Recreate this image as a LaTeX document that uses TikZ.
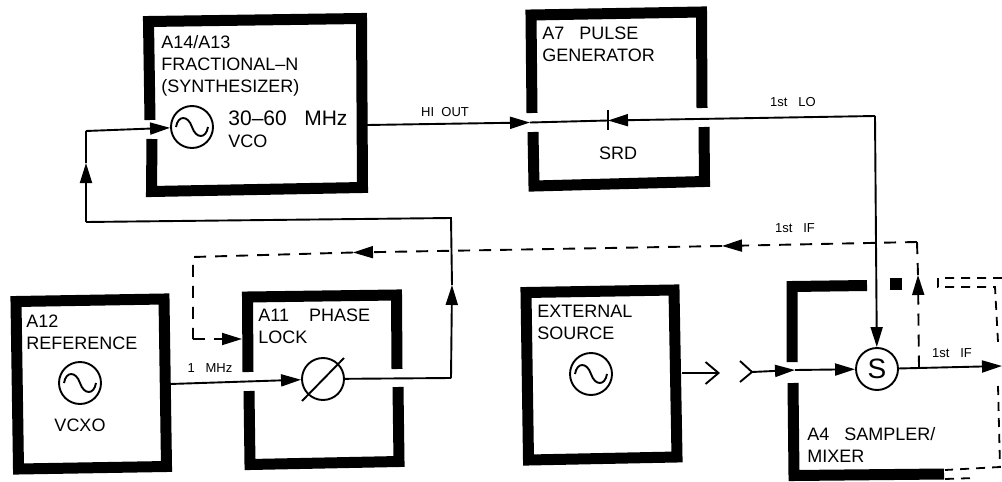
\documentclass[tikz,border=0pt]{standalone}
\usepackage{fontspec}
\setmainfont{Liberation Sans}
\usepackage{xcolor}
\usetikzlibrary{arrows.meta}

\tikzset{
  wall/.style={line width=5.5pt, line join=miter},
  sig/.style={line width=0.95pt},
  dsig/.style={sig, dash pattern=on 6pt off 4.5pt},
  dbox/.style={line width=0.9pt, dash pattern=on 4.5pt off 3.5pt},
  tip/.style={-{Triangle[length=10pt,width=6pt]}},
  blocktext/.style={anchor=north west, inner sep=0pt, align=left, font=\fontsize{9}{11}\selectfont},
  lbl/.style={inner sep=0pt, font=\fontsize{6.5}{7}\selectfont},
  roundel/.style={circle, draw, line width=0.95pt, minimum size=21pt, inner sep=0pt}
}

\begin{document}
\begin{tikzpicture}[x=0.5pt,y=-0.5pt]

\useasboundingbox (0,0) rectangle (1002,482);

% block outlines
\draw[wall] (152,139) -- (151.5,191.5) -- (362.5,187.5) -- (361.5,18.5) -- (148.5,21.5) -- (150,120);

\draw[wall] (532,113) -- (531,15) -- (701.5,12) -- (702,108);
\draw[wall] (533,132) -- (534,186) -- (704.5,181.5) -- (704,127);

\draw[wall] (16,301.5) -- (164,299) -- (166.5,466.5) -- (18.5,469) -- cycle;

\draw[wall] (248,372) -- (247.5,297) -- (396.5,295) -- (397,369);
\draw[wall] (249,391) -- (250,464.5) -- (399,461.5) -- (398,387);

\draw[wall] (526,292.5) -- (674,290) -- (677,457) -- (528.5,460) -- cycle;

\draw[wall] (792,362) -- (792,286.5) -- (867,285.5);
\draw[wall] (793,383) -- (794,475.5) -- (944,474);
\fill (890,278) rectangle (902,290);

% dashed part of the sampler box
\draw[dbox] (1002,278) -- (938,278) -- (938,287) -- (995,287) -- (998,342);
\draw[dbox] (998,386) -- (1000,467) -- (945,470);
\draw[dbox] (945,479) -- (975,478);

% round symbols
\node[roundel] (vco) at (192,127) {};
\node[roundel] (vcxo) at (80,383) {};
\node[roundel] (extosc) at (591,374) {};
\node[roundel] (phdet) at (323,379) {};
\node[roundel, font=\fontsize{14}{16}\selectfont] (samp) at (877,369) {S};

\foreach \osc in {vco,vcxo,extosc} {
  \draw[sig] (\osc) ++(-16,0) .. controls +(2,-12) and +(-4,-12) .. ++(16,0)
    .. controls +(4,12) and +(-2,12) .. ++(16,0);
}
\draw[sig] (phdet) ++(-21,22) -- ++(42,-43);

% connector points
\coordinate (synout) at (367,125);
\coordinate (hitip) at (530,122.5);
\coordinate (srd) at (608,120.5);
\coordinate (lobend) at (875,116);
\coordinate (refout) at (170,384);
\coordinate (pdbend) at (451,378);
\coordinate (pdtip) at (452,285);
\coordinate (fbright) at (451,218);
\coordinate (fbleft) at (86,222);
\coordinate (fbtip) at (86,163);
\coordinate (fbtop) at (86,131);
\coordinate (extout) at (682,373);
\coordinate (extplug) at (720,373);
\coordinate (jack) at (752,372);
\coordinate (jacktip) at (795,370);
\coordinate (ifout) at (1002,366);
\coordinate (ifjoin) at (919,367.5);
\coordinate (iftip) at (918,275);
\coordinate (ifcorner) at (917,242);
\coordinate (iftipa) at (722,246);
\coordinate (iftipb) at (353,252.5);
\coordinate (ifleft) at (193,257);
\coordinate (iflow) at (193,339);
\coordinate (iflock) at (242,339);

% signal lines
\draw[sig,tip] (synout) -- (hitip);
\draw[sig] (hitip) -- (srd);
\draw[sig,tip] (lobend) -- (srd);
\draw[sig] (srd) ++(0,-11) -- ++(0,20);
\draw[sig,tip] (lobend) -- (samp);

\draw[sig,tip] (refout) -- (phdet);
\draw[sig] (phdet) -- (pdbend);
\draw[sig,tip] (pdbend) -- (pdtip);
\draw[sig] (pdtip) -- (fbright) -- (fbleft);
\draw[sig,tip] (fbleft) -- (fbtip);
\draw[sig] (fbtip) -- (fbtop);
\draw[sig,tip] (fbtop) -- (vco);

\draw[sig,-{Straight Barb[length=6.5pt,width=11pt]}] (extout) -- (extplug);
\draw[sig] (740,361) -- (jack) -- (740,382);
\draw[sig,tip] (jack) -- (jacktip);
\draw[sig,tip] (jacktip) -- (samp);
\draw[sig,tip] (samp) -- (ifout);

\draw[dsig,tip] (ifjoin) -- (iftip);
\draw[dsig] (iftip) -- (ifcorner);
\draw[dsig,tip] (ifcorner) -- (iftipa);
\draw[dsig,tip] (iftipa) -- (iftipb);
\draw[dsig] (iftipb) -- (ifleft) -- (iflow);
\draw[dsig,tip] (iflow) -- (iflock);

% text
\node[blocktext] (synthtext) at (161,35) {A14/A13\\FRACTIONAL--N\\(SYNTHESIZER)};
\node[blocktext, font=\fontsize{10.5}{11}\selectfont] (vcotext) at (228,110) {30--60\ \ \ MHz\\\fontsize{9}{11}\selectfont VCO};
\node[blocktext] (pulsetext) at (542,27) {A7\ \ \ PULSE\\GENERATOR};
\node[blocktext, anchor=center] (srdtext) at (618,153) {SRD};
\node[blocktext] (reftext) at (26,315) {A12\\REFERENCE};
\node[blocktext, anchor=center] (vcxotext) at (80,425) {VCXO};
\node[blocktext] (locktext) at (258,309) {A11\ \ \ \ PHASE\\LOCK};
\node[blocktext] (exttext) at (537,305) {EXTERNAL\\SOURCE};
\node[blocktext] (samptext) at (807,427) {A4\ \ \ SAMPLER/\\MIXER};

\node[lbl] (hilabel) at (445,112) {HI\ \ OUT};
\node[lbl] (lolabel) at (793,102) {1st\ \ \ LO};
\node[lbl] (iflabel) at (795,228) {1st\ \ \ IF};
\node[lbl] (ifoutlabel) at (952,353) {1st\ \ \ IF};
\node[lbl] (mhzlabel) at (210,368) {1\ \ \ MHz};

\end{tikzpicture}
\end{document}
